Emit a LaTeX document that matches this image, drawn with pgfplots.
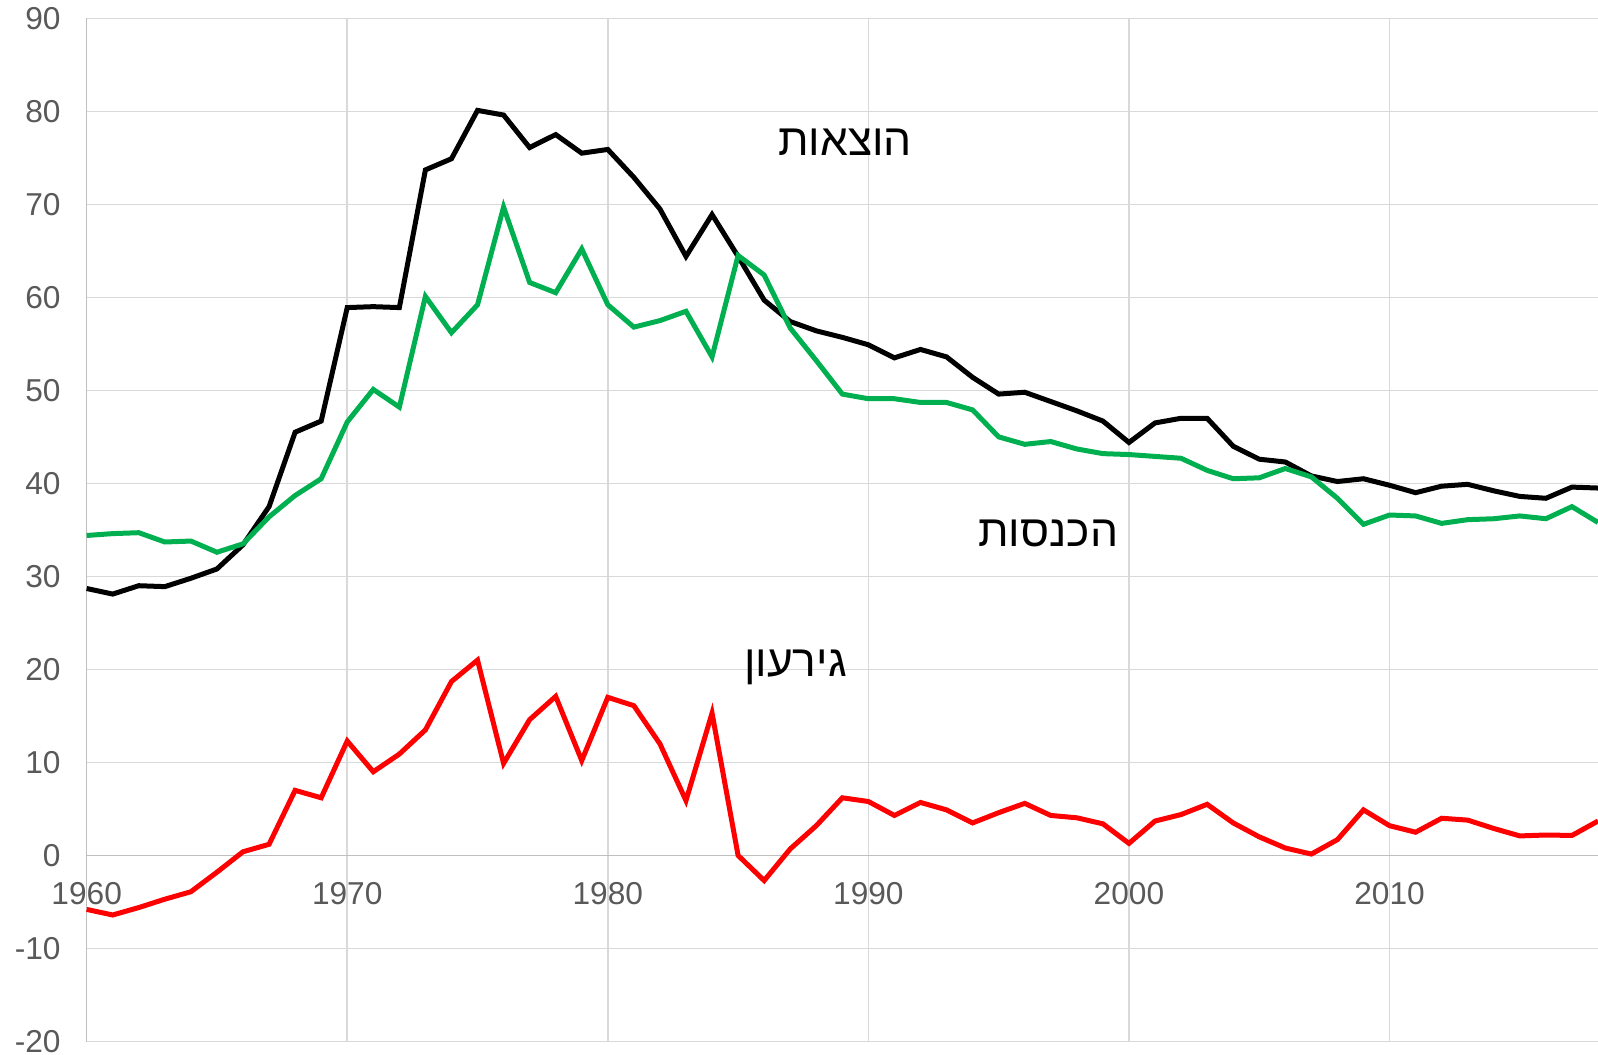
\documentclass[border=0pt]{standalone}
\usepackage{pgfplots}
\pgfplotsset{compat=1.18}
\usepackage{pgfplotstable}
\usepackage{fontspec}
\setmainfont{Liberation Sans}
\newfontfamily\hebfont[Script=Hebrew]{Liberation Sans}
\TeXXeTstate=1
\definecolor{ticktxt}{HTML}{595959}
\definecolor{gridc}{HTML}{D9D9D9}
\definecolor{axc}{HTML}{BFBFBF}
\definecolor{revgreen}{HTML}{00B050}
\definecolor{defred}{HTML}{FF0000}

\pgfplotstableread{
year exp rev def
1960 28.7 34.4 -5.8
1961 28.1 34.6 -6.4
1962 29.0 34.7 -5.6
1963 28.9 33.7 -4.7
1964 29.8 33.8 -3.9
1965 30.8 32.6 -1.8
1966 33.4 33.5 0.4
1967 37.5 36.4 1.2
1968 45.5 38.7 7.0
1969 46.7 40.5 6.2
1970 58.9 46.6 12.3
1971 59.0 50.1 9.0
1972 58.9 48.2 10.9
1973 73.7 60.1 13.5
1974 74.9 56.2 18.7
1975 80.1 59.2 21.0
1976 79.6 69.7 9.9
1977 76.1 61.6 14.6
1978 77.5 60.5 17.1
1979 75.5 65.2 10.2
1980 75.9 59.2 17.0
1981 72.9 56.8 16.1
1982 69.5 57.5 12.0
1983 64.4 58.5 5.9
1984 68.9 53.6 15.3
1985 64.4 64.5 0.0
1986 59.7 62.4 -2.7
1987 57.4 56.7 0.7
1988 56.4 53.2 3.2
1989 55.7 49.6 6.2
1990 54.9 49.1 5.8
1991 53.5 49.1 4.3
1992 54.4 48.7 5.7
1993 53.6 48.7 4.9
1994 51.4 47.9 3.5
1995 49.6 45.0 4.6
1996 49.8 44.2 5.6
1997 48.8 44.5 4.3
1998 47.8 43.7 4.05
1999 46.7 43.2 3.4
2000 44.4 43.1 1.3
2001 46.5 42.9 3.7
2002 47.0 42.7 4.4
2003 47.0 41.4 5.5
2004 44.0 40.5 3.5
2005 42.6 40.6 2.0
2006 42.3 41.6 0.8
2007 40.8 40.7 0.15
2008 40.2 38.4 1.7
2009 40.5 35.6 4.9
2010 39.8 36.6 3.2
2011 39.0 36.5 2.5
2012 39.7 35.7 4.0
2013 39.9 36.1 3.8
2014 39.2 36.2 2.9
2015 38.6 36.5 2.1
2016 38.4 36.2 2.2
2017 39.6 37.5 2.15
2018 39.5 35.8 3.7
}\data

\begin{document}
\begin{tikzpicture}
\path[use as bounding box] (0,0) rectangle (479.4pt,316.2pt);
\begin{axis}[
  at={(26pt,3.75pt)}, anchor=south west,
  scale only axis,
  width=453.4pt, height=306.96pt,
  xmin=1960, xmax=2018,
  ymin=-20, ymax=90,
  axis x line=middle,
  axis y line=left,
  axis line style={-, draw=axc, line width=0.5pt},
  hide obscured x ticks=false,
  hide obscured y ticks=false,
  xtick={1960,1970,...,2010},
  ytick={-20,-10,...,90},
  major tick length=0pt,
  xmajorgrids, ymajorgrids,
  grid style={draw=gridc, line width=0.45pt},
  tick label style={font=\fontsize{9.5pt}{11pt}\selectfont, text=ticktxt},
  /pgf/number format/assume math mode=true,
  xticklabel style={/pgf/number format/1000 sep={}, yshift=-4.5pt},
  yticklabel style={xshift=-4.3pt},
  clip=false,
]
\addplot[black, line width=1.5pt] table[x=year, y=exp] {\data};
\addplot[revgreen, line width=1.5pt] table[x=year, y=rev] {\data};
\addplot[defred, line width=1.5pt] table[x=year, y=def] {\data};
\node[anchor=base, font=\fontsize{13.3pt}{15pt}\selectfont] at (axis cs:1989.1,75.2) {\hebfont\beginR הוצאות\endR};
\node[anchor=base, font=\fontsize{13.3pt}{15pt}\selectfont] at (axis cs:1996.9,33.2) {\hebfont\beginR הכנסות\endR};
\node[anchor=base, font=\fontsize{13.3pt}{15pt}\selectfont] at (axis cs:1987.2,19.2) {\hebfont\beginR גירעון\endR};
\end{axis}
\end{tikzpicture}
\end{document}
